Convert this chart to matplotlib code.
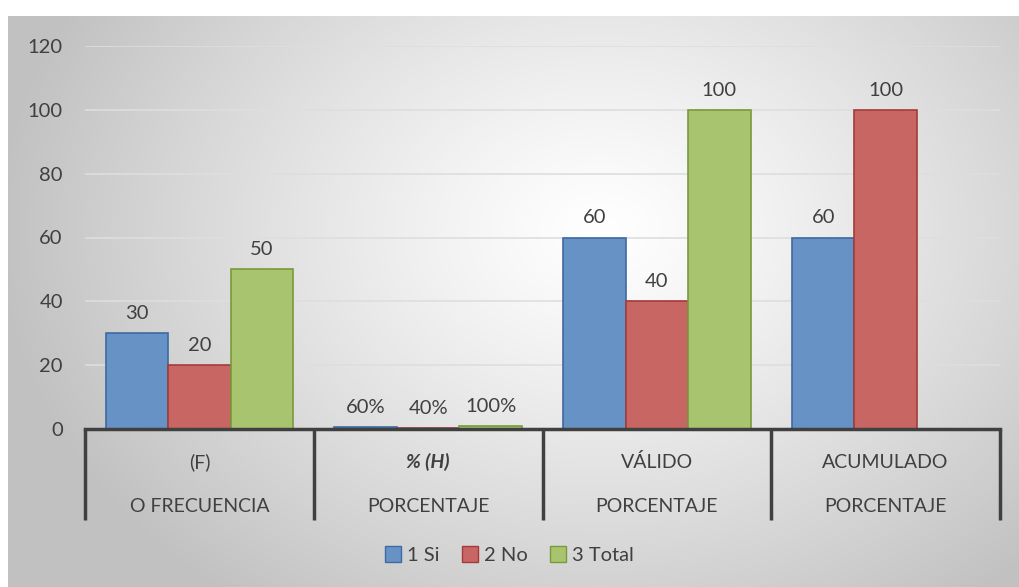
import numpy as np
import matplotlib
matplotlib.use("Agg")
import matplotlib.pyplot as plt
from matplotlib.patches import Patch

# data
top_labels = ["(F)", "% (H)", "VÁLIDO", "ACUMULADO"]
bottom_labels = ["O FRECUENCIA", "PORCENTAJE", "PORCENTAJE", "PORCENTAJE"]
series_names = ["1 Si", "2 No", "3 Total"]
si = [30, 0.6, 60, 60]
no = [20, 0.4, 40, 100]
total = [50, 1.0, 100, np.nan]
si_text = ["30", "60%", "60", "60"]
no_text = ["20", "40%", "40", "100"]
total_text = ["50", "100%", "100", ""]
yticks = [0, 20, 40, 60, 80, 100, 120]

fills = ["#6792C5", "#C86664", "#A9C46E"]
edges = ["#3D6AA2", "#A23C3A", "#789A3A"]
txt = "#404040"

plt.rcParams["font.family"] = ["Lato", "DejaVu Sans"]

W, H = 1019, 587
fig = plt.figure(figsize=(W / 100, H / 100), dpi=100)

# radial grey background like the Excel chart area
bg = fig.add_axes([0, 0, 1, 1], zorder=-10)
yy, xx = np.mgrid[0:H, 0:W]
r = np.sqrt(((xx - 600) / 600.0) ** 2 + ((yy - 230) / 460.0) ** 2)
r = np.clip(r, 0, 1) ** 1.2
val = 1.0 - r * (1.0 - 0.76)
img = np.dstack([val, val, val])
img[:16, :, :] = 1.0
img[:, :8, :] = 1.0
bg.imshow(img, extent=[0, W, H, 0], aspect="auto", interpolation="bilinear")
bg.set_xlim(0, W)
bg.set_ylim(H, 0)
bg.axis("off")

left, right = 85 / W, 1000 / W
bottom, top = 1 - 429 / H, 1 - 46 / H
ax = fig.add_axes([left, bottom, right - left, top - bottom])
ax.patch.set_alpha(0)

x = np.arange(len(top_labels))
bw = 0.273
offsets = [-bw, 0, bw]
for vals, texts, fc, ec, off in zip([si, no, total], [si_text, no_text, total_text],
                                     fills, edges, offsets):
    bars = ax.bar(x + off, vals, width=bw, color=fc, edgecolor=ec, linewidth=1.2, zorder=3)
    for b, v, t in zip(bars, vals, texts):
        if np.isnan(v):
            continue
        ax.annotate(t, (b.get_x() + b.get_width() / 2, v), xytext=(0, 8),
                    textcoords="offset points", ha="center", va="bottom",
                    fontsize=14.5, color=txt)

ax.set_xlim(-0.5, len(top_labels) - 0.5)
ax.set_ylim(0, 120)
ax.set_yticks(yticks)
ax.set_yticklabels([str(v) for v in yticks], fontsize=14.5, color=txt)
ax.tick_params(axis="y", length=0, pad=16)
ax.set_xticks([])
ax.grid(axis="y", color="#dedede", linewidth=1.2, zorder=0)
for s in ["top", "right", "left"]:
    ax.spines[s].set_visible(False)
ax.spines["bottom"].set_color("#404040")
ax.spines["bottom"].set_linewidth(2.5)
ax.spines["bottom"].set_zorder(5)

# two-level category axis
trans = ax.get_xaxis_transform()
depth = (520 - 429) / (429 - 46)
for b in np.arange(-0.5, len(top_labels), 1.0):
    ax.plot([b, b], [0, -depth], transform=trans, color="#404040", lw=2.5,
            clip_on=False, solid_capstyle="butt")
for i in range(len(top_labels)):
    style = "italic" if i == 1 else "normal"
    weight = "bold" if i == 1 else "normal"
    ax.text(x[i], -33 / 383, top_labels[i], transform=trans, ha="center", va="center",
            fontsize=14, color=txt, style=style, weight=weight)
    ax.text(x[i], -78 / 383, bottom_labels[i], transform=trans, ha="center", va="center",
            fontsize=14, color=txt)

handles = [Patch(facecolor=f, edgecolor=e, label=n) for f, e, n in zip(fills, edges, series_names)]
fig.legend(handles=handles, loc="center", bbox_to_anchor=(0.5, 1 - 555 / H), ncol=3,
           frameon=False, fontsize=14.5, labelcolor=txt, handlelength=0.8, handleheight=0.8,
           handletextpad=0.3, columnspacing=1.1)

fig.savefig("out.png", dpi=100)
